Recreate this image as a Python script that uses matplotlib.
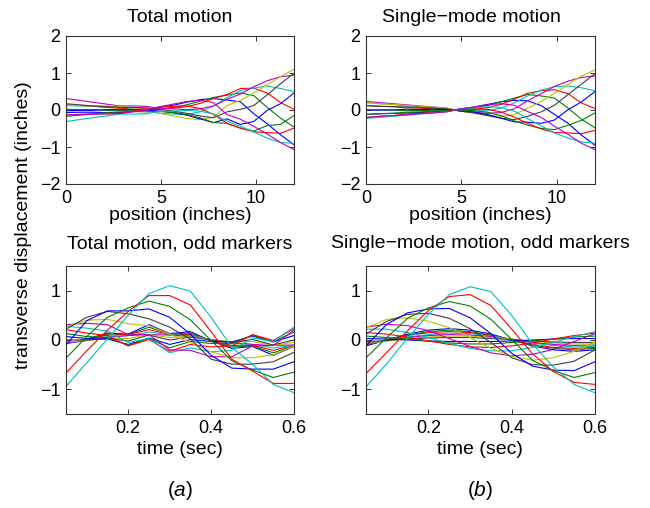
import matplotlib
matplotlib.use("Agg")
import matplotlib.pyplot as plt
import numpy as np

plt.rcParams['font.family'] = ['Liberation Sans', 'DejaVu Sans']
plt.rcParams['mathtext.fontset'] = 'custom'
plt.rcParams['mathtext.it'] = 'Liberation Sans:italic'
plt.rcParams['mathtext.rm'] = 'Liberation Sans'

# ---------------- data ----------------
positions = [0.0, 0.71, 1.41, 2.12, 2.82, 3.53, 4.24, 4.94, 5.65, 6.35,
             7.06, 7.76, 8.47, 9.18, 9.88, 10.59, 11.29, 12.0]
times = [0.05, 0.10, 0.15, 0.20, 0.25, 0.30, 0.35, 0.40, 0.45, 0.50, 0.55, 0.60]

# displacement of each (odd) marker at each time sample -- total motion
total_rows = [
    [-0.07, 0.02, 0.14, 0.12, 0.31, 0.13, 0.17, -0.02, -0.17, -0.13, -0.31, -0.13],
    [-0.06, 0.01, 0.12, 0.11, 0.26, 0.12, 0.14, -0.01, -0.14, -0.12, -0.26, -0.12],
    [-0.06, 0.01, 0.10, 0.11, 0.21, 0.11, 0.11, -0.01, -0.11, -0.11, -0.21, -0.11],
    [-0.07, -0.01, 0.07, 0.09, 0.16, 0.11, 0.09, 0.01, -0.07, -0.09, -0.16, -0.11],
    [-0.07, -0.01, 0.05, 0.09, 0.11, 0.10, 0.07, 0.01, -0.05, -0.09, -0.11, -0.10],
    [-0.04, -0.01, 0.03, 0.03, 0.11, 0.05, 0.07, 0.01, -0.04, -0.03, -0.11, -0.05],
    [0.00, 0.00, 0.03, -0.02, 0.10, 0.00, 0.06, 0.00, -0.05, 0.01, -0.10, 0.00],
    [0.07, 0.03, 0.02, -0.09, 0.04, -0.09, 0.01, -0.03, -0.04, 0.08, -0.04, 0.09],
    [0.13, 0.07, 0.05, -0.11, 0.03, -0.16, -0.03, -0.07, -0.07, 0.10, -0.03, 0.16],
    [0.21, 0.14, 0.09, -0.12, 0.01, -0.23, -0.09, -0.14, -0.12, 0.11, -0.01, 0.23],
    [0.28, 0.24, 0.18, -0.05, 0.03, -0.26, -0.16, -0.24, -0.21, 0.04, -0.03, 0.26],
    [0.31, 0.34, 0.31, 0.11, 0.11, -0.20, -0.21, -0.34, -0.34, -0.12, -0.11, 0.20],
    [0.27, 0.40, 0.42, 0.33, 0.29, 0.12, -0.05, -0.24, -0.36, -0.36, -0.30, -0.12],
    [0.22, 0.46, 0.58, 0.53, 0.43, 0.26, 0.02, -0.39, -0.49, -0.49, -0.44, -0.25],
    [-0.10, 0.39, 0.59, 0.59, 0.63, 0.46, 0.12, -0.31, -0.57, -0.59, -0.59, -0.44],
    [-0.37, 0.07, 0.46, 0.65, 0.79, 0.68, 0.41, -0.01, -0.42, -0.61, -0.76, -0.65],
    [-0.67, -0.22, 0.20, 0.58, 0.90, 0.90, 0.71, 0.17, -0.39, -0.63, -0.88, -0.88],
    [-0.94, -0.46, 0.02, 0.50, 0.94, 1.10, 0.99, 0.46, -0.15, -0.49, -0.90, -1.07],
]

# single-mode motion
single_rows = [
    [-0.12, 0.00, 0.12, 0.20, 0.23, 0.20, 0.12, 0.00, -0.12, -0.20, -0.23, -0.20],
    [-0.10, 0.00, 0.10, 0.17, 0.20, 0.17, 0.10, 0.00, -0.10, -0.17, -0.20, -0.17],
    [-0.09, 0.00, 0.09, 0.15, 0.17, 0.15, 0.09, 0.00, -0.09, -0.15, -0.17, -0.15],
    [-0.08, -0.02, 0.06, 0.11, 0.14, 0.13, 0.08, 0.02, -0.06, -0.11, -0.14, -0.13],
    [-0.07, -0.01, 0.05, 0.09, 0.11, 0.10, 0.07, 0.01, -0.05, -0.09, -0.11, -0.10],
    [-0.05, -0.02, 0.03, 0.06, 0.08, 0.08, 0.05, 0.02, -0.03, -0.06, -0.08, -0.08],
    [-0.03, -0.01, 0.02, 0.04, 0.05, 0.05, 0.03, 0.01, -0.02, -0.04, -0.05, -0.05],
    [0.03, 0.02, 0.00, -0.02, -0.03, -0.03, -0.03, -0.02, 0.00, 0.02, 0.03, 0.03],
    [0.08, 0.05, 0.02, -0.02, -0.06, -0.08, -0.08, -0.05, -0.02, 0.02, 0.06, 0.08],
    [0.15, 0.12, 0.06, -0.02, -0.09, -0.14, -0.15, -0.12, -0.06, 0.02, 0.09, 0.14],
    [0.22, 0.22, 0.15, 0.05, -0.07, -0.17, -0.22, -0.22, -0.15, -0.05, 0.07, 0.17],
    [0.26, 0.32, 0.29, 0.19, 0.03, -0.13, -0.26, -0.32, -0.29, -0.19, -0.03, 0.13],
    [0.25, 0.42, 0.45, 0.38, 0.25, 0.05, -0.17, -0.33, -0.41, -0.36, -0.23, -0.04],
    [0.12, 0.38, 0.52, 0.54, 0.44, 0.23, -0.05, -0.36, -0.50, -0.51, -0.43, -0.20],
    [-0.12, 0.32, 0.55, 0.63, 0.64, 0.45, 0.13, -0.27, -0.53, -0.61, -0.62, -0.44],
    [-0.36, 0.05, 0.44, 0.65, 0.78, 0.69, 0.42, 0.01, -0.41, -0.62, -0.76, -0.66],
    [-0.68, -0.25, 0.19, 0.60, 0.88, 0.92, 0.70, 0.22, -0.28, -0.64, -0.86, -0.90],
    [-0.95, -0.48, 0.04, 0.52, 0.92, 1.08, 0.98, 0.50, -0.08, -0.55, -0.90, -1.07],
]

titles_top = ["Total motion", "Single\u2212mode motion"]
titles_bottom = ["Total motion, odd markers", "Single\u2212mode motion, odd markers"]
panel_labels = ["($\\mathit{a}$)", "($\\mathit{b}$)"]

matlab_colors = [(0, 0, 1), (0, 0.5, 0), (1, 0, 0), (0, 0.75, 0.75),
                 (0.75, 0, 0.75), (0.75, 0.75, 0), (0.25, 0.25, 0.25)]

# ---------------- figure ----------------
W, H = 650, 508
fig = plt.figure(figsize=(W / 100, H / 100), dpi=100)


def px_axes(x0, y0, x1, y1):
    return fig.add_axes([x0 / W, 1 - y1 / H, (x1 - x0) / W, (y1 - y0) / H])


def style(ax):
    for s in ax.spines.values():
        s.set_color('#333333')
        s.set_linewidth(0.8)
    ax.tick_params(direction='in', top=True, right=True, length=3.5,
                   width=0.7, color='#333333', labelsize=13, pad=4)
    ax.set_facecolor('white')


lab_fs = 14

ax_tl = px_axes(66, 36, 294, 184)
ax_tr = px_axes(366, 36, 595, 184)
ax_bl = px_axes(66, 266, 294, 414)
ax_br = px_axes(366, 266, 595, 414)

for ax, rows in ((ax_tl, total_rows), (ax_tr, single_rows)):
    M = np.array(rows)
    for j in range(len(times)):
        ax.plot(positions, M[:, j], color=matlab_colors[j % 7], lw=0.8)
    ax.set_xlim(0, 12)
    ax.set_ylim(-2, 2)
    ax.set_xticks([0, 5, 10])
    ax.set_yticks([-2, -1, 0, 1, 2])
    style(ax)

for ax, rows in ((ax_bl, total_rows), (ax_br, single_rows)):
    M = np.array(rows)
    for i in range(M.shape[0]):
        ax.plot(times, M[i], color=matlab_colors[i % 7], lw=0.8)
    ax.set_xlim(0.05, 0.6)
    ax.set_ylim(-1.5, 1.5)
    ax.set_xticks([0.2, 0.4, 0.6])
    ax.set_xticklabels(["0.2", "0.4", "0.6"])
    ax.set_yticks([-1, 0, 1])
    style(ax)

# texts
top_title_x = [180, 471]
for k, cx in enumerate([180, 480]):
    fig.text(top_title_x[k] / W, 1 - 17 / H, titles_top[k], ha='center', va='center', fontsize=lab_fs)
    fig.text(cx / W, 1 - 216 / H, "position (inches)", ha='center', va='center', fontsize=lab_fs)
    fig.text(cx / W, 1 - 244 / H, titles_bottom[k], ha='center', va='center', fontsize=lab_fs)
    fig.text(cx / W, 1 - 449 / H, "time (sec)", ha='center', va='center', fontsize=lab_fs)
    fig.text(cx / W, 1 - 490 / H, panel_labels[k], ha='center', va='center', fontsize=lab_fs + 1)

fig.text(24 / W, 1 - 225 / H, "transverse displacement (inches)", rotation=90,
         ha='center', va='center', fontsize=lab_fs)

fig.savefig("out.png", dpi=100, facecolor='white')
